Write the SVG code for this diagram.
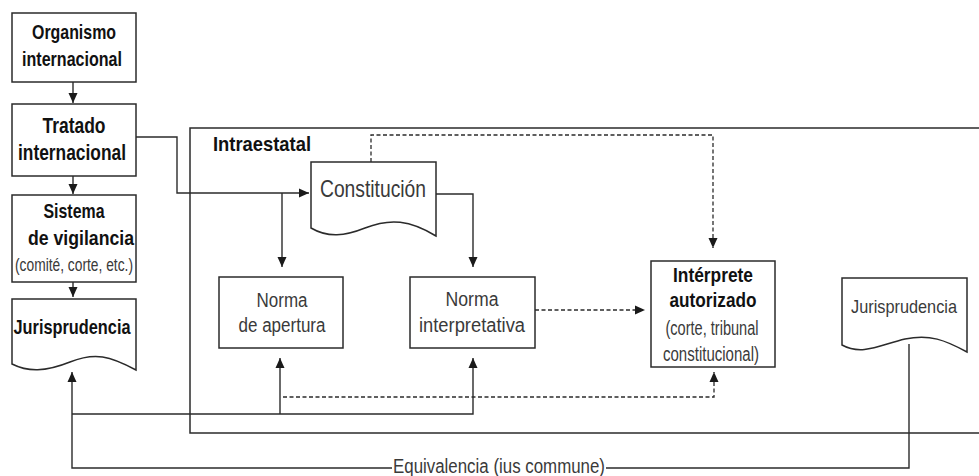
<svg xmlns="http://www.w3.org/2000/svg" width="979" height="476" viewBox="0 0 979 476">
<style>
.box{fill:#fff;stroke:#2b2b2b;stroke-width:1.5}
.frame{fill:none;stroke:#2b2b2b;stroke-width:1.5}
.ln{fill:none;stroke:#2b2b2b;stroke-width:1.4}
.dash{fill:none;stroke:#2b2b2b;stroke-width:1.3;stroke-dasharray:4 2.5}
.b{font-family:"Liberation Sans Narrow","Liberation Sans",Arial,sans-serif;font-weight:bold;fill:#111;text-anchor:middle}
.r{font-family:"Liberation Sans Narrow","Liberation Sans",Arial,sans-serif;fill:#3a3a3a;text-anchor:middle}
</style>
<defs>
<marker id="ah" viewBox="0 0 10 10" refX="10" refY="5" markerWidth="10" markerHeight="10" markerUnits="userSpaceOnUse" orient="auto">
<path d="M0,0.5 L10,5 L0,9.5 z" fill="#1a1a1a"/>
</marker>
</defs>
<rect width="979" height="476" fill="#fff"/>

<g id="intraestatal">
<path class="frame" d="M979,128 H190 V433 H979"/>
<text class="b" x="262" y="151" font-size="21" textLength="98" lengthAdjust="spacingAndGlyphs">Intraestatal</text>
</g>

<g id="connectors">
<path class="ln" d="M73,82 V103" marker-end="url(#ah)"/>
<path class="ln" d="M73,176 V194" marker-end="url(#ah)"/>
<path class="ln" d="M73,282 V297" marker-end="url(#ah)"/>
<path class="ln" d="M136,137 H177 V193 H309" marker-end="url(#ah)"/>
<path class="ln" d="M282,193 V267" marker-end="url(#ah)"/>
<path class="ln" d="M436,194 H473 V267" marker-end="url(#ah)"/>
<path class="dash" d="M371,162 V135 H713 V248" marker-end="url(#ah)"/>
<path class="dash" d="M535,310 H645" marker-end="url(#ah)"/>
<path class="dash" d="M283,397 H714 V372" marker-end="url(#ah)"/>
<path class="ln" d="M72,414 H473 V358" marker-end="url(#ah)"/>
<path class="ln" d="M280,414 V358" marker-end="url(#ah)"/>
<path class="ln" d="M909,344 V468 H606"/>
<path class="ln" d="M392,468 H72 V372" marker-end="url(#ah)"/>
<text class="r" x="499" y="473" font-size="20" textLength="212" lengthAdjust="spacingAndGlyphs">Equivalencia (ius commune)</text>
</g>

<g id="organismo">
<rect class="box" x="12" y="13" width="124" height="69"/>
<text class="b" x="74" y="39" font-size="21" textLength="84" lengthAdjust="spacingAndGlyphs">Organismo</text>
<text class="b" x="72" y="66" font-size="21" textLength="100" lengthAdjust="spacingAndGlyphs">internacional</text>
</g>

<g id="tratado">
<rect class="box" x="12" y="104" width="124" height="72"/>
<text class="b" x="74" y="133" font-size="22" textLength="63" lengthAdjust="spacingAndGlyphs">Tratado</text>
<text class="b" x="72" y="160" font-size="22" textLength="108" lengthAdjust="spacingAndGlyphs">internacional</text>
</g>

<g id="sistema">
<rect class="box" x="12" y="195" width="124" height="87"/>
<text class="b" x="74" y="218" font-size="21" textLength="61" lengthAdjust="spacingAndGlyphs">Sistema</text>
<text class="b" x="81" y="245" font-size="21" textLength="106" lengthAdjust="spacingAndGlyphs">de vigilancia</text>
<text class="r" x="74" y="271" font-size="18" textLength="118" lengthAdjust="spacingAndGlyphs">(comité, corte, etc.)</text>
</g>

<g id="jurisprudencia-int">
<path class="box" d="M12,299 H136 V370 C110,356 95,352 70,362 C45,372 28,372 12,364 Z"/>
<text class="b" x="72" y="334" font-size="21" textLength="117" lengthAdjust="spacingAndGlyphs">Jurisprudencia</text>
</g>

<g id="constitucion">
<path class="box" d="M311,162 H436 V236 C410,220 390,218 365,228 C345,236 328,238 311,228 Z"/>
<text class="r" x="373" y="197" font-size="24" textLength="106" lengthAdjust="spacingAndGlyphs">Constitución</text>
</g>

<g id="norma-apertura">
<rect class="box" x="219" y="277" width="124" height="71"/>
<text class="r" x="282" y="307" font-size="20" textLength="51" lengthAdjust="spacingAndGlyphs">Norma</text>
<text class="r" x="282" y="332" font-size="20" textLength="87" lengthAdjust="spacingAndGlyphs">de apertura</text>
</g>

<g id="norma-interpretativa">
<rect class="box" x="410" y="277" width="125" height="71"/>
<text class="r" x="472" y="306" font-size="20" textLength="53" lengthAdjust="spacingAndGlyphs">Norma</text>
<text class="r" x="472" y="332" font-size="20" textLength="106" lengthAdjust="spacingAndGlyphs">interpretativa</text>
</g>

<g id="interprete">
<rect class="box" x="651" y="261" width="124" height="106" stroke-width="1.8"/>
<text class="b" x="713" y="282" font-size="21" textLength="80" lengthAdjust="spacingAndGlyphs">Intérprete</text>
<text class="b" x="713" y="307" font-size="21" textLength="87" lengthAdjust="spacingAndGlyphs">autorizado</text>
<text class="r" x="712" y="335" font-size="20" textLength="93" lengthAdjust="spacingAndGlyphs">(corte, tribunal</text>
<text class="r" x="711" y="361" font-size="20" textLength="96" lengthAdjust="spacingAndGlyphs">constitucional)</text>
</g>

<g id="jurisprudencia-nac">
<path class="box" d="M842,278 H967 V352 C945,340 930,334 905,339 C880,345 862,356 842,345 Z"/>
<text class="r" x="904" y="313" font-size="19" textLength="106" lengthAdjust="spacingAndGlyphs">Jurisprudencia</text>
</g>
</svg>
